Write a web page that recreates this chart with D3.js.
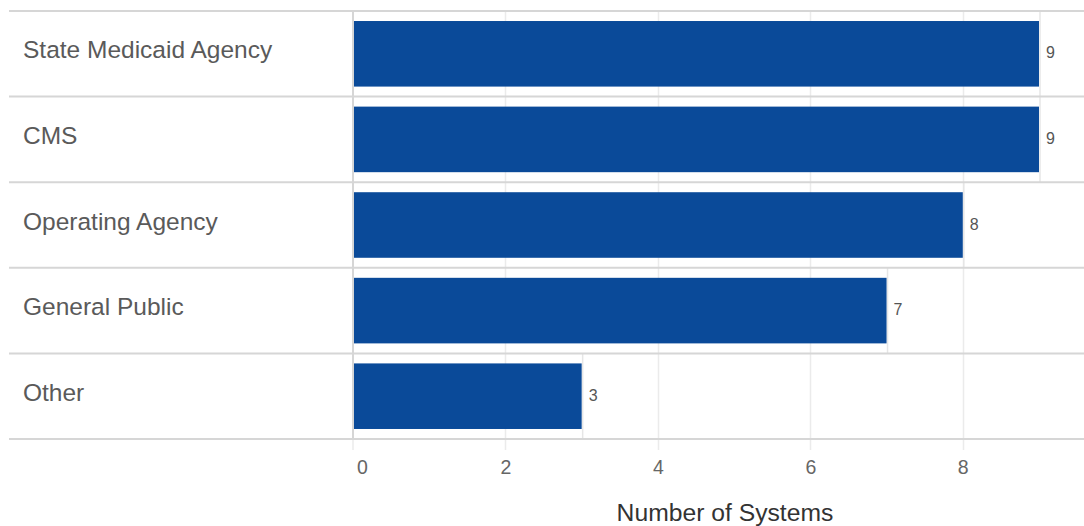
<!DOCTYPE html>
<html>
<head>
<meta charset="utf-8">
<script src="https://cdn.jsdelivr.net/npm/d3@7"></script>
<style>
  html, body { margin: 0; padding: 0; background: #fff; }
  svg { display: block; font-family: "Liberation Sans", Arial, sans-serif; }
</style>
</head>
<body>
<svg id="chart" width="1084" height="526"></svg>
<script>
const categories = ["State Medicaid Agency", "CMS", "Operating Agency", "General Public", "Other"];
const values = [9, 9, 8, 7, 3];
const tickValues = [0, 2, 4, 6, 8];
const axisTitle = "Number of Systems";

(function () {
const W = 1084, H = 526;
const plotLeft = 353, plotTop = 11, plotBottom = 439;
const rowLeft = 9;

const svg = d3.select("#chart");

const x = d3.scaleLinear().domain([0, 9]).range([plotLeft, 1039]);
const y = d3.scaleBand().domain(categories).range([plotTop, plotBottom]).padding(0);
const barPad = y.bandwidth() * 0.117;

// vertical gridlines (ticks extend below axis)
svg.append("g").selectAll("line").data(tickValues.filter(t => t !== 0)).join("line")
  .attr("x1", d => Math.round(x(d)) + 0.5).attr("x2", d => Math.round(x(d)) + 0.5)
  .attr("y1", plotTop).attr("y2", plotBottom + 11)
  .attr("stroke", "#ebebeb").attr("stroke-width", 1.5);

// zero tick extension
svg.append("line")
  .attr("x1", x(0)).attr("x2", x(0)).attr("y1", plotBottom).attr("y2", plotBottom + 11)
  .attr("stroke", "#ebebeb").attr("stroke-width", 1.5);

// per-row value lines
svg.append("g").selectAll("line").data(categories).join("line")
  .attr("x1", (d, i) => x(values[i]) + 1).attr("x2", (d, i) => x(values[i]) + 1)
  .attr("y1", d => y(d)).attr("y2", d => y(d) + y.bandwidth())
  .attr("stroke", "#e6e6e6").attr("stroke-width", 1.5);

// bars
svg.append("g").selectAll("rect").data(categories).join("rect")
  .attr("x", x(0) + 1)
  .attr("y", d => y(d) + barPad)
  .attr("width", (d, i) => x(values[i]) - x(0) - 1)
  .attr("height", y.bandwidth() - 2 * barPad)
  .attr("fill", "#0a4a99");

// row separators
const seps = categories.map(d => y(d)).concat([plotBottom]);
svg.append("g").selectAll("line").data(seps).join("line")
  .attr("x1", rowLeft).attr("x2", W)
  .attr("y1", d => d).attr("y2", d => d)
  .attr("stroke", "#d6d6d6").attr("stroke-width", 2);

// left axis line
svg.append("line")
  .attr("x1", x(0)).attr("x2", x(0)).attr("y1", plotTop).attr("y2", plotBottom)
  .attr("stroke", "#d6d6d6").attr("stroke-width", 2);

// category labels
svg.append("g").selectAll("text").data(categories).join("text")
  .attr("x", 23)
  .attr("y", d => y(d) + y.bandwidth() / 2 - 4)
  .attr("dy", "0.35em")
  .attr("font-size", 24.5)
  .attr("fill", "#5a5a5a")
  .text(d => d);

// value labels
svg.append("g").selectAll("text").data(categories).join("text")
  .attr("x", (d, i) => x(values[i]) + 7)
  .attr("y", d => y(d) + y.bandwidth() / 2 - 1)
  .attr("dy", "0.35em")
  .attr("font-size", 16)
  .attr("fill", "#555")
  .text((d, i) => values[i]);

// x axis tick labels
const axis = d3.axisBottom(x).tickValues(tickValues).tickSize(0).tickPadding(0);
const ax = svg.append("g").attr("transform", `translate(0,${plotBottom + 21})`).call(axis);
ax.select(".domain").remove();
ax.selectAll("text")
  .attr("font-size", 19.5)
  .attr("font-family", "\"Liberation Sans\", Arial, sans-serif")
  .attr("fill", "#666")
  .attr("dy", "0.71em")
  .attr("dx", d => d === 0 ? 9 : 0);

// axis title
svg.append("text")
  .attr("x", 725).attr("y", 521)
  .attr("text-anchor", "middle")
  .attr("font-size", 24.7)
  .attr("fill", "#333")
  .text(axisTitle);
})();
</script>
</body>
</html>
